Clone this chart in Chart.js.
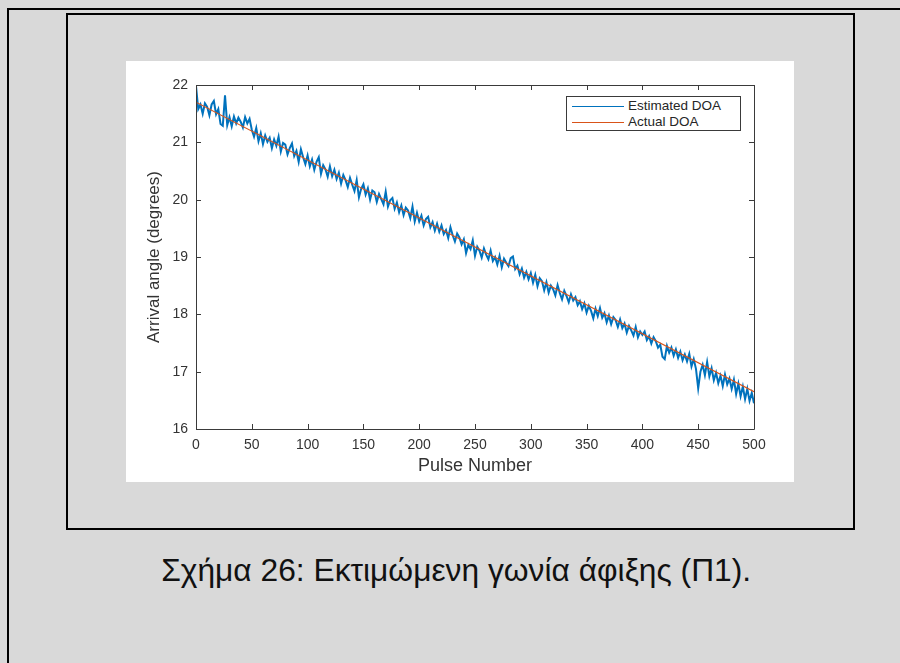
<!DOCTYPE html>
<html>
<head>
<meta charset="utf-8">
<script src="https://cdn.jsdelivr.net/npm/chart.js@4.4.1/dist/chart.umd.min.js"></script>
<style>
  html, body { margin: 0; padding: 0; }
  body { width: 900px; height: 663px; background: #d9d9d9; position: relative; overflow: hidden; font-family: "Liberation Sans", Arial, sans-serif; }
  #outer { position: absolute; left: 7px; top: 8px; width: 1000px; height: 1000px; border-top: 2px solid #000; border-left: 2px solid #000; }
  #inner { position: absolute; left: 66px; top: 13px; width: 789px; height: 517px; border: 2px solid #000; box-sizing: border-box; }
  #wrap { position: absolute; left: 126px; top: 61px; width: 668px; height: 421px; background: #fff; }
  #legend { position: absolute; left: 566px; top: 96px; width: 175px; height: 35px; border: 1px solid #3a3a3a; box-sizing: border-box; background: #fff; font-size: 13.5px; color: #262626; }
  #legend .row { position: absolute; left: 0; height: 16px; line-height: 16px; white-space: nowrap; }
  #legend .ln { position: absolute; left: 5px; width: 52px; top: 8px; }
  #legend .tx { position: absolute; left: 61px; top: 0; }
  #capwrap { position: absolute; left: 0; width: 912px; top: 553px; text-align: center; }
  #caption { display: inline-block; font-family: "Liberation Sans", Arial, sans-serif; font-size: 31px; color: #111; white-space: nowrap; transform-origin: 50% 50%; }
</style>
</head>
<body>
<div id="outer"></div>
<div id="inner"></div>
<div id="wrap"><canvas id="c" width="668" height="421"></canvas></div>
<div id="legend"></div>
<div id="capwrap"><span id="caption">Σχήμα 26: Εκτιμώμενη γωνία άφιξης (Π1).</span></div>
<script>
// ---- data ----
const pulseStep = 2; // estimated DOA sampled every 2 pulses, starting at pulse 0
const estimatedDOA = [
  21.98, 21.58, 21.66, 21.50, 21.68, 21.62, 21.47, 21.66, 21.72, 21.49,
  21.58, 21.32, 21.29, 21.82, 21.30, 21.44, 21.28, 21.45, 21.33, 21.43,
  21.36, 21.26, 21.44, 21.33, 21.41, 21.22, 21.10, 21.25, 21.02, 21.16,
  20.97, 21.12, 21.01, 21.08, 20.90, 21.05, 20.94, 21.10, 20.84, 20.99,
  20.96, 20.79, 20.90, 20.98, 20.76, 20.85, 20.66, 20.88, 20.74, 20.62,
  20.77, 20.58, 20.70, 20.52, 20.66, 20.74, 20.45, 20.60, 20.53, 20.40,
  20.58, 20.41, 20.52, 20.36, 20.47, 20.28, 20.43, 20.34, 20.22, 20.38,
  20.26, 20.15, 20.34, 20.04, 20.19, 20.27, 20.09, 20.20, 20.00, 20.16,
  20.13, 19.96, 20.10, 20.01, 19.92, 20.14, 19.88, 19.99, 20.03, 19.84,
  19.95, 19.78, 19.90, 19.73, 19.86, 19.81, 19.68, 19.88, 19.62, 19.77,
  19.62, 19.72, 19.55, 19.66, 19.70, 19.52, 19.61, 19.46, 19.58, 19.44,
  19.55, 19.40, 19.47, 19.33, 19.52, 19.38, 19.27, 19.41, 19.34, 19.22,
  19.31, 19.07, 19.21, 19.14, 19.29, 19.02, 19.18, 19.11, 18.99, 19.15,
  19.04, 18.96, 19.11, 18.93, 19.00, 18.87, 19.02, 18.82, 18.97, 18.90,
  18.84, 18.98, 19.01, 18.79, 18.85, 18.70, 18.80, 18.64, 18.74, 18.61,
  18.72, 18.55, 18.69, 18.49, 18.63, 18.58, 18.42, 18.56, 18.38, 18.50,
  18.44, 18.33, 18.51, 18.37, 18.26, 18.41, 18.32, 18.21, 18.35, 18.24,
  18.30, 18.16, 18.23, 18.09, 18.19, 18.03, 18.15, 18.06, 17.93, 18.10,
  17.97, 18.11, 17.94, 18.02, 17.86, 17.98, 17.83, 17.95, 17.90, 17.78,
  17.91, 17.76, 17.84, 17.68, 17.80, 17.72, 17.63, 17.78, 17.60, 17.70,
  17.64, 17.70, 17.55, 17.62, 17.49, 17.60, 17.53, 17.42, 17.47, 17.26,
  17.22, 17.45, 17.33, 17.42, 17.28, 17.39, 17.24, 17.35, 17.20, 17.30,
  17.18, 17.31, 17.09, 17.22, 17.05, 16.71, 17.00, 17.12, 16.94, 17.17,
  16.92, 17.06, 16.85, 16.98, 16.80, 16.93, 16.75, 16.95, 16.78, 16.88,
  16.70, 16.86, 16.61, 16.79, 16.57, 16.74, 16.52, 16.70, 16.49, 16.63,
  16.45
];
const actualPulses = [0, 500];
const actualDOA = [21.70, 16.65];
const xTicks = [0, 50, 100, 150, 200, 250, 300, 350, 400, 450, 500];
const yTicks = [16, 17, 18, 19, 20, 21, 22];
const seriesNames = ["Estimated DOA", "Actual DOA"];
const seriesColors = ["#0072BD", "#D95319"];
const xTitle = "Pulse Number";
const yTitle = "Arrival angle (degrees)";

// ---- build ----
const estPoints = estimatedDOA.map((v, i) => ({ x: i * pulseStep, y: v }));
const actPoints = actualPulses.map((p, i) => ({ x: p, y: actualDOA[i] }));

// caption width fit (condensed look)
const cap = document.getElementById('caption');
const capW = cap.getBoundingClientRect().width;
cap.style.transform = 'scaleX(' + (590 / capW).toFixed(4) + ')';

// HTML legend
const leg = document.getElementById('legend');
seriesNames.forEach((name, i) => {
  const row = document.createElement('div');
  row.className = 'row';
  row.style.top = (1 + i * 16) + 'px';
  row.style.width = '100%';
  const ln = document.createElement('div');
  ln.className = 'ln';
  ln.style.borderTop = (i === 0 ? 1.5 : 1) + 'px solid ' + seriesColors[i];
  const tx = document.createElement('div');
  tx.className = 'tx';
  tx.textContent = name;
  row.appendChild(ln); row.appendChild(tx);
  leg.appendChild(row);
});

const axisColor = '#3a3a3a';
const boxTicks = {
  id: 'boxTicks',
  afterDatasetsDraw(chart) {
    const { ctx, chartArea: a, scales } = chart;
    ctx.save();
    ctx.strokeStyle = axisColor;
    ctx.lineWidth = 1;
    ctx.beginPath();
    ctx.rect(Math.round(a.left) + 0.5, Math.round(a.top) + 0.5, Math.round(a.right - a.left), Math.round(a.bottom - a.top));
    ctx.stroke();
    const tl = 5;
    ctx.beginPath();
    xTicks.forEach(v => {
      const px = Math.round(scales.x.getPixelForValue(v)) + 0.5;
      ctx.moveTo(px, a.bottom); ctx.lineTo(px, a.bottom - tl);
      ctx.moveTo(px, a.top); ctx.lineTo(px, a.top + tl);
    });
    yTicks.forEach(v => {
      const py = Math.round(scales.y.getPixelForValue(v)) + 0.5;
      ctx.moveTo(a.left, py); ctx.lineTo(a.left + tl, py);
      ctx.moveTo(a.right, py); ctx.lineTo(a.right - tl, py);
    });
    ctx.stroke();
    ctx.restore();
  }
};

new Chart(document.getElementById('c'), {
  type: 'line',
  data: {
    datasets: [
      { label: seriesNames[0], data: estPoints, borderColor: seriesColors[0], borderWidth: 2, pointRadius: 0, tension: 0, order: 2 },
      { label: seriesNames[1], data: actPoints, borderColor: seriesColors[1], borderWidth: 1.1, pointRadius: 0, tension: 0, order: 1 }
    ]
  },
  options: {
    responsive: false,
    animation: false,
    events: [],
    layout: { padding: { top: 24, right: 40, left: 0, bottom: 0 } },
    plugins: { legend: { display: false }, tooltip: { enabled: false } },
    scales: {
      x: {
        type: 'linear', min: 0, max: 500,
        afterBuildTicks(s) { s.ticks = xTicks.map(v => ({ value: v })); },
        afterFit(s) { s.height = 53; },
        grid: { display: false, drawTicks: false },
        border: { display: false },
        ticks: { padding: 8, color: '#333', font: { family: 'Liberation Sans, Arial', size: 14 }, maxRotation: 0, autoSkip: false },
        title: { display: true, text: xTitle, color: '#333', font: { family: 'Liberation Sans, Arial', size: 18 }, padding: { top: 0, bottom: 5 } }
      },
      y: {
        type: 'linear', min: 16, max: 22,
        afterBuildTicks(s) { s.ticks = yTicks.map(v => ({ value: v })); },
        afterFit(s) { s.width = 70; },
        grid: { display: false, drawTicks: false },
        border: { display: false },
        ticks: { padding: 8, color: '#333', font: { family: 'Liberation Sans, Arial', size: 14 }, autoSkip: false },
        title: { display: true, text: yTitle, color: '#333', font: { family: 'Liberation Sans, Arial', size: 17 }, padding: { top: 18, bottom: 0 } }
      }
    }
  },
  plugins: [boxTicks]
});
</script>
</body>
</html>
